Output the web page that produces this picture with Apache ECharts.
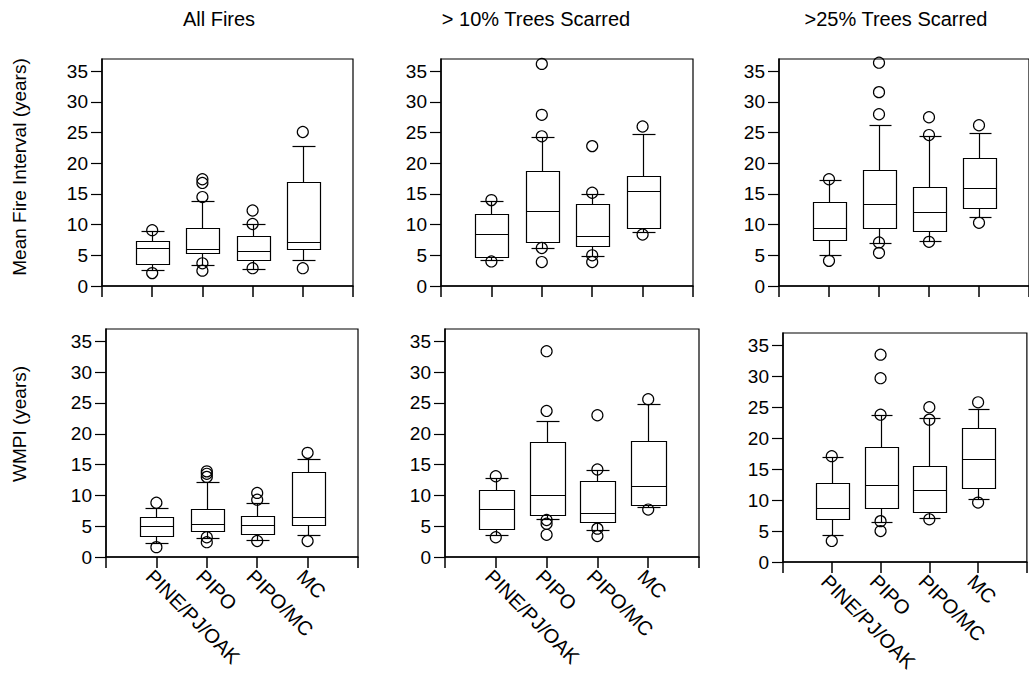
<!DOCTYPE html>
<html>
<head>
<meta charset="utf-8">
<script src="https://cdn.jsdelivr.net/npm/echarts@6/dist/echarts.min.js"></script>
<style>
html,body{margin:0;padding:0;background:#fff;}
#chart{width:1029px;height:679px;}
</style>
</head>
<body>
<div id="chart"></div>
<script>
// ---- data ----
const categories = ['PINE/PJ/OAK', 'PIPO', 'PIPO/MC', 'MC'];
const yTicks = [0, 5, 10, 15, 20, 25, 30, 35];
const panelTitles = ['All Fires', '> 10% Trees Scarred', '>25% Trees Scarred'];
const rowNames = ['Mean Fire Interval (years)', 'WMPI (years)'];

// box stats per category: [lower whisker, Q1, median, Q3, upper whisker]
const mfiAll = [[2.6, 3.6, 6.2, 7.4, 8.9], [3.5, 5.3, 6.0, 9.4, 13.8], [2.8, 4.3, 5.7, 8.2, 10.1], [4.2, 6.1, 7.2, 16.9, 22.9]];
const mfiAllOut = [[9.1, 2.1], [17.4, 16.8, 14.5, 3.7, 2.5], [12.3, 10.1, 2.9], [25.1, 2.9]];

const mfi10 = [[4.2, 4.7, 8.4, 11.8, 13.8], [6.2, 7.2, 12.2, 18.7, 24.3], [4.9, 6.5, 8.1, 13.4, 15.0], [8.8, 9.4, 15.5, 17.9, 24.7]];
const mfi10Out = [[14.0, 4.0], [36.2, 27.9, 24.4, 6.2, 3.9], [22.8, 15.2, 5.0, 3.9], [26.0, 8.4]];

const mfi25 = [[5.0, 7.5, 9.4, 13.7, 17.3], [7.0, 9.5, 13.4, 18.9, 26.2], [7.3, 8.9, 12.0, 16.2, 24.4], [11.2, 12.7, 16.0, 20.9, 24.9]];
const mfi25Out = [[17.4, 4.1], [36.4, 31.6, 28.0, 7.1, 5.4], [27.5, 24.6, 7.2], [26.2, 10.3]];

const wmpiAll = [[2.2, 3.4, 5.0, 6.5, 8.0], [3.1, 4.3, 5.3, 7.8, 12.2], [2.7, 3.7, 5.2, 6.6, 8.8], [3.5, 5.2, 6.5, 13.8, 15.9]];
const wmpiAllOut = [[8.8, 1.6], [13.9, 13.5, 13.0, 3.2, 2.4], [10.4, 9.3, 2.6], [16.9, 2.6]];

const wmpi10 = [[3.6, 4.5, 7.8, 10.8, 12.8], [6.1, 6.8, 10.0, 18.6, 22.1], [4.4, 5.6, 7.2, 12.3, 14.1], [8.1, 8.4, 11.5, 18.9, 24.8]];
const wmpi10Out = [[13.1, 3.2], [33.4, 23.7, 6.0, 5.4, 3.6], [23.0, 14.2, 4.6, 3.4], [25.6, 7.7]];

const wmpi25 = [[4.4, 6.9, 8.8, 12.8, 16.9], [6.5, 8.8, 12.5, 18.6, 23.7], [7.1, 8.0, 11.7, 15.5, 23.2], [10.2, 11.9, 16.7, 21.6, 24.8]];
const wmpi25Out = [[17.1, 3.4], [33.5, 29.7, 23.8, 6.6, 5.0], [25.0, 23.0, 6.9], [25.8, 9.6]];

const boxSets = [mfiAll, mfi10, mfi25, wmpiAll, wmpi10, wmpi25];
const outSets = [mfiAllOut, mfi10Out, mfi25Out, wmpiAllOut, wmpi10Out, wmpi25Out];

// ---- layout ----
const FONT = 'Liberation Sans, Arial, sans-serif';
const grids = [
  {left: 102, top: 59, width: 251, height: 227},
  {left: 441, top: 59, width: 252, height: 227},
  {left: 779, top: 59, width: 254, height: 227},
  {left: 106, top: 329, width: 252, height: 228},
  {left: 445, top: 329, width: 254, height: 228},
  {left: 783, top: 333, width: 256, height: 229}
];
const BOX_W = 0.67, CAP_W = 0.44;

function crisp(v) { return Math.round(v) + 0.5; }

function renderBox(params, api) {
  const x = api.value(0);
  const lo = api.coord([x, api.value(1)]);
  const q1 = api.coord([x, api.value(2)]);
  const md = api.coord([x, api.value(3)]);
  const q3 = api.coord([x, api.value(4)]);
  const hi = api.coord([x, api.value(5)]);
  const bw = api.size([BOX_W, 0])[0];
  const cw = api.size([CAP_W, 0])[0];
  const cx = crisp(md[0]);
  const st = {stroke: '#000', lineWidth: 1.2, fill: 'none'};
  const L = (x1, y1, x2, y2) => ({type: 'line', shape: {x1, y1, x2, y2}, style: st});
  const bl = crisp(cx - bw / 2), br = crisp(cx + bw / 2);
  const yq1 = crisp(q1[1]), yq3 = crisp(q3[1]), ymd = crisp(md[1]), ylo = crisp(lo[1]), yhi = crisp(hi[1]);
  return {
    type: 'group',
    children: [
      L(cx, yhi, cx, yq3),
      L(cx, yq1, cx, ylo),
      L(crisp(cx - cw / 2), yhi, crisp(cx + cw / 2), yhi),
      L(crisp(cx - cw / 2), ylo, crisp(cx + cw / 2), ylo),
      {type: 'rect', shape: {x: bl, y: yq3, width: br - bl, height: yq1 - yq3}, style: st},
      L(bl, ymd, br, ymd)
    ]
  };
}

const xAxes = [], yAxes = [], series = [];
grids.forEach((g, i) => {
  const bottomRow = i >= 3;
  xAxes.push({
    gridIndex: i, type: 'value', min: 0, max: 5, interval: 1,
    axisLine: {show: true, onZero: false, lineStyle: {color: '#000', width: 1.5}},
    axisTick: {show: true, length: 11, lineStyle: {color: '#000', width: 1.5}},
    splitLine: {show: false},
    axisLabel: {
      show: bottomRow, rotate: -45, margin: 9, verticalAlign: 'top', align: 'left',
      color: '#000', fontSize: 20, fontFamily: FONT,
      formatter: v => categories[v - 1] || ''
    }
  });
  yAxes.push({
    gridIndex: i, type: 'value', min: 0, max: 37,
    axisLine: {show: true, onZero: false, lineStyle: {color: '#000', width: 1.5}},
    axisTick: {show: true, length: 11, customValues: yTicks, lineStyle: {color: '#000', width: 1.2}},
    splitLine: {show: false},
    axisLabel: {customValues: yTicks, margin: 14, color: '#000', fontSize: 19, fontFamily: FONT}
  });
  series.push({
    type: 'custom', xAxisIndex: i, yAxisIndex: i,
    renderItem: renderBox,
    encode: {x: 0, y: [1, 2, 3, 4, 5]},
    data: boxSets[i].map((b, k) => [k + 1].concat(b)),
    silent: true, animation: false
  });
  const pts = [];
  outSets[i].forEach((arr, k) => arr.forEach(v => pts.push([k + 1, v])));
  series.push({
    type: 'scatter', xAxisIndex: i, yAxisIndex: i,
    symbol: 'circle', symbolSize: 11,
    itemStyle: {color: 'rgba(255,255,255,0)', borderColor: '#000', borderWidth: 1.2, opacity: 1},
    data: pts, silent: true, animation: false
  });
});

const graphics = [];
const titleX = [219, 536, 896];
panelTitles.forEach((t, i) => graphics.push({
  type: 'text', x: titleX[i], y: 19,
  style: {text: t, fontSize: 20, fontFamily: FONT, fill: '#000', align: 'center', verticalAlign: 'middle'}
}));
const nameY = [167, 424];
rowNames.forEach((t, i) => graphics.push({
  type: 'text', x: 19, y: nameY[i], rotation: Math.PI / 2,
  style: {text: t, fontSize: 19, fontFamily: FONT, fill: '#000', align: 'center', verticalAlign: 'middle'}
}));

const chart = echarts.init(document.getElementById('chart'), null, {renderer: 'svg'});
chart.setOption({
  animation: false,
  backgroundColor: '#fff',
  grid: grids.map(g => Object.assign({show: true, borderColor: '#000', borderWidth: 1.2, backgroundColor: 'rgba(0,0,0,0)', containLabel: false}, g)),
  xAxis: xAxes,
  yAxis: yAxes,
  series: series,
  graphic: graphics
});
</script>
</body>
</html>
